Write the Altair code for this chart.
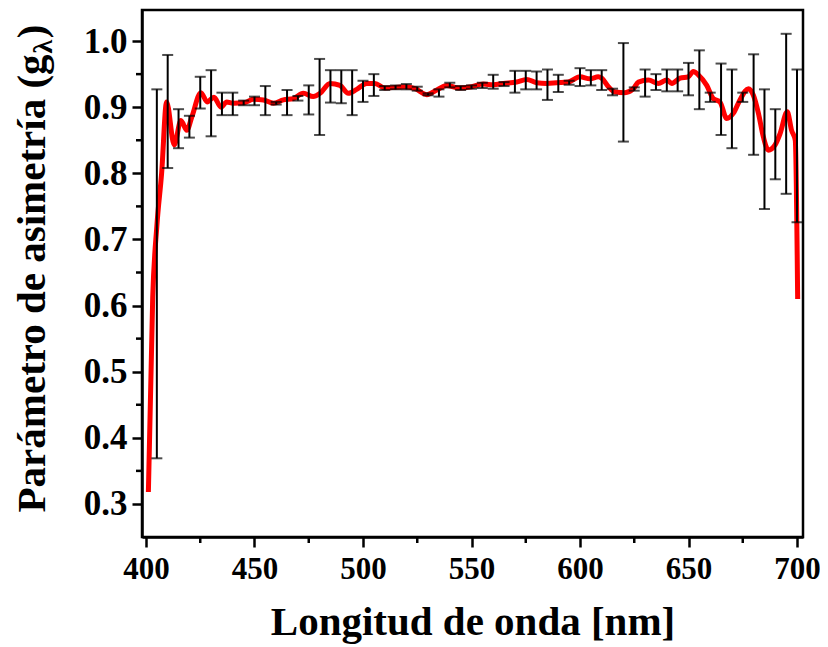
import altair as alt
import pandas as pd

# Red curve: wavelength (nm) and asymmetry parameter
line_nm = [401.1, 403.1, 405.0, 407.2, 409.5, 413.0, 416.1, 418.8, 421.1, 425.3, 428.2, 431.3,
           434.6, 437.2, 440.2, 445.6, 449.4, 454.1, 458.7, 463.3, 467.9, 472.5, 477.1, 480.2,
           484.8, 489.4, 493.2, 497.1, 501.7, 505.5, 510.1, 519.4, 524.0, 529.4, 534.0, 538.6,
           543.9, 550.1, 555.4, 560.0, 564.7, 570.8, 575.4, 580.0, 584.7, 589.3, 594.6, 600.0,
           604.6, 608.4, 610.0, 613.1, 616.1, 620.7, 624.6, 626.9, 631.5, 636.1, 640.0, 642.3,
           646.1, 649.9, 652.2, 654.5, 658.4, 661.4, 664.5, 667.6, 670.7, 673.7, 677.6, 679.9,
           682.2, 684.5, 686.8, 689.9, 692.2, 695.5, 697.5, 699.2, 700.3]
line_g = [0.318, 0.613, 0.720, 0.800, 0.908, 0.843, 0.880, 0.865, 0.885, 0.922, 0.908, 0.915,
          0.900, 0.908, 0.906, 0.907, 0.912, 0.911, 0.906, 0.911, 0.913, 0.921, 0.916, 0.921,
          0.936, 0.933, 0.921, 0.927, 0.936, 0.936, 0.929, 0.931, 0.928, 0.919, 0.926, 0.933,
          0.929, 0.931, 0.935, 0.934, 0.936, 0.938, 0.942, 0.937, 0.936, 0.937, 0.938, 0.946,
          0.943, 0.946, 0.944, 0.931, 0.923, 0.922, 0.928, 0.938, 0.941, 0.936, 0.941, 0.936,
          0.944, 0.946, 0.954, 0.949, 0.933, 0.913, 0.908, 0.883, 0.891, 0.911, 0.928, 0.918,
          0.891, 0.855, 0.835, 0.843, 0.860, 0.893, 0.865, 0.850, 0.610]

# Error bars: wavelength, lower and upper limits
err_nm = [405, 410, 415, 420, 425, 430, 435, 440, 445, 450, 455, 460, 465, 470, 475, 480,
          485, 490, 495, 500, 505, 510, 515, 520, 525, 530, 535, 540, 545, 550, 555, 560,
          565, 570, 575, 580, 585, 590, 595, 600, 605, 610, 615, 620, 625, 630, 635, 640,
          645, 650, 655, 660, 665, 670, 675, 680, 685, 690, 695, 700]
err_lo = [0.369, 0.808, 0.838, 0.854, 0.898, 0.856, 0.888, 0.888, 0.903, 0.903, 0.888, 0.904,
          0.888, 0.910, 0.889, 0.858, 0.907, 0.906, 0.888, 0.908, 0.917, 0.926, 0.927, 0.927,
          0.925, 0.918, 0.916, 0.930, 0.926, 0.928, 0.929, 0.928, 0.932, 0.922, 0.927, 0.927,
          0.911, 0.923, 0.934, 0.932, 0.933, 0.926, 0.918, 0.848, 0.925, 0.916, 0.926, 0.924,
          0.924, 0.918, 0.897, 0.908, 0.858, 0.838, 0.908, 0.828, 0.746, 0.791, 0.769, 0.726]
err_hi = [0.927, 0.979, 0.897, 0.887, 0.946, 0.956, 0.922, 0.922, 0.910, 0.916, 0.932, 0.908,
          0.926, 0.917, 0.933, 0.973, 0.956, 0.956, 0.956, 0.940, 0.950, 0.932, 0.933, 0.935,
          0.931, 0.921, 0.927, 0.937, 0.932, 0.933, 0.937, 0.949, 0.938, 0.955, 0.955, 0.954,
          0.957, 0.949, 0.940, 0.959, 0.956, 0.956, 0.928, 0.997, 0.930, 0.957, 0.950, 0.957,
          0.957, 0.967, 0.986, 0.922, 0.966, 0.957, 0.922, 0.980, 0.927, 0.897, 1.011, 0.957]

x_major = [400, 450, 500, 550, 600, 650, 700]
x_minor = [425, 475, 525, 575, 625, 675]
y_major = [0.3, 0.4, 0.5, 0.6, 0.7, 0.8, 0.9, 1.0]
y_minor = [0.35, 0.45, 0.55, 0.65, 0.75, 0.85, 0.95]

# y-axis title pieces (main text, subscript, closing bracket)
ytitle_main = ["Parámetro de asimetría (g"]
ytitle_sub = ["λ"]
ytitle_end = [")"]

W, H = 661, 527
FONT = "Liberation Serif"
TS = 41          # title font size
SUB = 28         # subscript font size
main_w = 11.191 * TS          # Times-Bold advance width of the main piece
sub_w = 0.55 * SUB
title_total = main_w + sub_w + 0.333 * TS
y_start = H / 2 + title_total / 2 - 5
TX = -97

line_df = pd.DataFrame({"nm": line_nm, "g": line_g})
err_df = pd.DataFrame({"nm": err_nm, "lo": err_lo, "hi": err_hi})
xmin_df = pd.DataFrame({"nm": x_minor})
ymin_df = pd.DataFrame({"g": y_minor})

xs = alt.Scale(domain=[398.16, 702.76], nice=False, zero=False)
ys = alt.Scale(domain=[0.25, 1.047], nice=False, zero=False)

x_axis = alt.Axis(values=x_major, title="Longitud de onda [nm]", format="d", tickSize=10,
                  labelPadding=7, titlePadding=18, labelFontSize=31)
y_axis = alt.Axis(values=y_major, title=None, format=".1f",
                  tickSize=10, labelPadding=5, labelFontSize=35)

line = alt.Chart(line_df).mark_line(color="#ff0000", strokeWidth=5, interpolate="monotone").encode(
    x=alt.X("nm:Q", scale=xs, axis=x_axis),
    y=alt.Y("g:Q", scale=ys, axis=y_axis),
)

bars = alt.Chart(err_df).mark_rule(color="black", strokeWidth=2).encode(
    x=alt.X("nm:Q", scale=xs), y=alt.Y("lo:Q", scale=ys), y2="hi:Q"
)
cap_lo = alt.Chart(err_df).mark_tick(color="black", thickness=2, size=11, orient="horizontal").encode(
    x=alt.X("nm:Q", scale=xs), y=alt.Y("lo:Q", scale=ys)
)
cap_hi = alt.Chart(err_df).mark_tick(color="black", thickness=2, size=11, orient="horizontal").encode(
    x=alt.X("nm:Q", scale=xs), y=alt.Y("hi:Q", scale=ys)
)

xminor = alt.Chart(xmin_df).mark_rule(color="black", strokeWidth=2.5).encode(
    x=alt.X("nm:Q", scale=xs), y=alt.value(H), y2=alt.value(H + 6)
)
yminor = alt.Chart(ymin_df).mark_rule(color="black", strokeWidth=2.5).encode(
    y=alt.Y("g:Q", scale=ys), x=alt.value(-6), x2=alt.value(0)
)

t_main = alt.Chart(pd.DataFrame({"t": ytitle_main})).mark_text(
    angle=270, align="left", baseline="alphabetic", font=FONT, fontWeight="bold",
    fontSize=TS, color="black"
).encode(text="t:N", x=alt.value(TX), y=alt.value(y_start))
t_sub = alt.Chart(pd.DataFrame({"t": ytitle_sub})).mark_text(
    angle=270, align="left", baseline="alphabetic", font=FONT, fontWeight="bold",
    fontSize=SUB, color="black"
).encode(text="t:N", x=alt.value(TX + 7), y=alt.value(y_start - main_w))
t_end = alt.Chart(pd.DataFrame({"t": ytitle_end})).mark_text(
    angle=270, align="left", baseline="alphabetic", font=FONT, fontWeight="bold",
    fontSize=TS, color="black"
).encode(text="t:N", x=alt.value(TX), y=alt.value(y_start - main_w - sub_w))

chart = alt.layer(line, bars, cap_lo, cap_hi, xminor, yminor, t_main, t_sub, t_end).properties(
    width=W, height=H,
    autosize=alt.AutoSizeParams(type="none"),
    padding={"left": 134, "top": 2, "right": 17, "bottom": 110},
).configure_view(
    stroke="black", strokeWidth=2.5
).configure_axis(
    grid=False, domainColor="black", domainWidth=2.5, tickColor="black", tickWidth=2.5,
    labelFont=FONT, labelFontWeight="bold", labelColor="black",
    titleFont=FONT, titleFontWeight="bold", titleFontSize=TS, titleColor="black",
)

chart.save("out.html", embed_options={"renderer": "svg", "actions": False})
